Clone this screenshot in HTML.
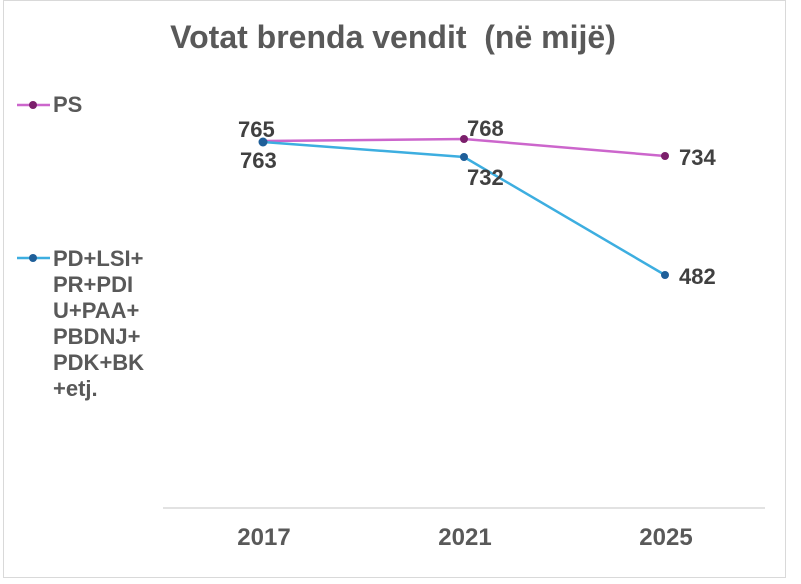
<!DOCTYPE html>
<html><head><style>
body{margin:0;background:#fff;}
svg{display:block;font-family:"Liberation Sans",sans-serif;font-weight:bold;}
</style></head><body>
<svg width="801" height="584" viewBox="0 0 801 584">
<rect x="3.5" y="0.5" width="782" height="577" fill="#fff" stroke="#d9d9d9"/>
<text x="393" y="48" font-size="32" fill="#595959" text-anchor="middle" style="white-space:pre">Votat brenda vendit  (në mijë)</text>
<line x1="163" y1="508" x2="765" y2="508" stroke="#d9d9d9" stroke-width="1.5"/>
<g font-size="24" fill="#595959" text-anchor="middle">
<text x="264" y="545">2017</text><text x="465" y="545">2021</text><text x="666" y="545">2025</text>
</g>
<polyline points="263,141 464,139 665,156" fill="none" stroke="#cc66cc" stroke-width="2.5"/>
<polyline points="263,142 464,157 665,275" fill="none" stroke="#3daee0" stroke-width="2.5"/>
<g fill="#7b1f6b"><circle cx="464" cy="139" r="4"/><circle cx="665" cy="156" r="4"/></g>
<g fill="#1f5f99"><circle cx="263" cy="142" r="4.5"/><circle cx="464" cy="157" r="4"/><circle cx="665" cy="275" r="4"/></g>
<g font-size="22" fill="#404040">
<text x="238" y="137">765</text><text x="240" y="168">763</text>
<text x="467" y="136">768</text><text x="467" y="185">732</text>
<text x="679" y="165">734</text><text x="679" y="284">482</text>
</g>
<line x1="17" y1="105" x2="50" y2="105" stroke="#cc66cc" stroke-width="2.5"/>
<circle cx="33" cy="105" r="4" fill="#7b1f6b"/>
<text x="53" y="112" font-size="22" fill="#595959">PS</text>
<line x1="17" y1="258" x2="50" y2="258" stroke="#3daee0" stroke-width="2.5"/>
<circle cx="33" cy="258" r="4" fill="#1f5f99"/>
<g font-size="22" fill="#595959">
<text x="53" y="266">PD+LSI+</text><text x="53" y="292">PR+PDI</text><text x="53" y="318">U+PAA+</text>
<text x="53" y="344">PBDNJ+</text><text x="53" y="370">PDK+BK</text><text x="53" y="396">+etj.</text>
</g>
</svg>
</body></html>
